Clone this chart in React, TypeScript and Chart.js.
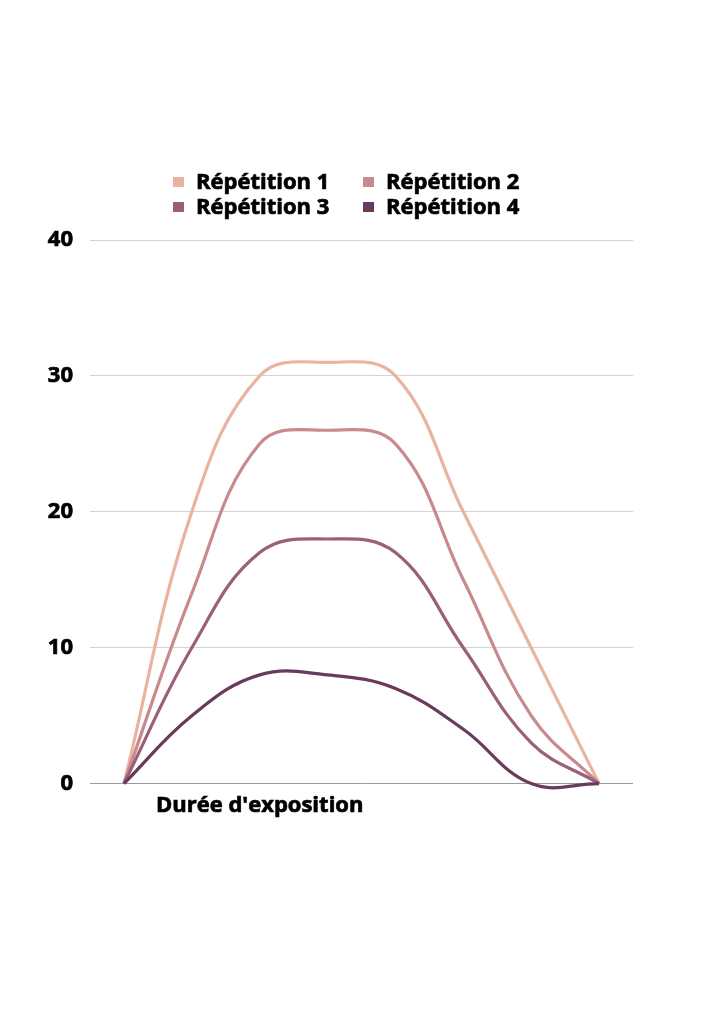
import React, { useEffect, useRef } from "react";
import { Chart, registerables } from "chart.js";

Chart.register(...registerables);

const categories = ["", "", "Durée d'exposition", "", "", "", "", ""];
const seriesNames = ["Répétition 1", "Répétition 2", "Répétition 3", "Répétition 4"];
const rep1 = [0, 20, 30, 31, 30, 20, 10, 0];
const rep2 = [0, 14, 25, 26, 25, 15, 5, 0];
const rep3 = [0, 10, 17, 18, 17, 10, 3, 0];
const rep4 = [0, 5, 8, 8, 7, 4, 0, 0];
const colors = ["#e9b3a0", "#c98a8e", "#9b5f78", "#6a3a5c"];
const yTicks = [0, 10, 20, 30, 40];

const FONT = "'Open Sans', sans-serif";
const FONT_SIZE = 22;
const FONT_WEIGHT = "bold";
const STROKE = 0.7;

const legendPlugin = {
  id: "gridLegend",
  afterDraw(chart: any) {
    const ctx = chart.ctx;
    const boxX = [165, 355];
    const rowY = [174, 199];
    ctx.save();
    ctx.font = `${FONT_WEIGHT} ${FONT_SIZE}px ${FONT}`;
    ctx.textBaseline = "middle";
    ctx.textAlign = "left";
    ctx.lineWidth = STROKE;
    ctx.strokeStyle = "#000";
    chart.data.datasets.forEach((ds: any, i: number) => {
      const col = i % 2;
      const row = Math.floor(i / 2);
      ctx.fillStyle = ds.borderColor;
      ctx.fillRect(boxX[col], rowY[row] - 5, 11, 10);
      ctx.fillStyle = "#000";
      ctx.fillText(ds.label, boxX[col] + 23, rowY[row] + 1);
      ctx.strokeText(ds.label, boxX[col] + 23, rowY[row] + 1);
    });
    ctx.restore();
  },
};

export default function App() {
  const ref = useRef<HTMLCanvasElement>(null);
  useEffect(() => {
    if (!ref.current) return;
    const series = [rep1, rep2, rep3, rep4];
    const chart = new Chart(ref.current, {
      type: "line",
      data: {
        labels: categories,
        datasets: series.map((d, i) => ({
          label: seriesNames[i],
          data: d,
          borderColor: colors[i],
          backgroundColor: colors[i],
          borderWidth: 3.2,
          pointRadius: 0,
          tension: 0.4,
          fill: false,
          clip: 8,
          order: 4 - i,
        })),
      },
      options: {
        animation: false,
        responsive: true,
        maintainAspectRatio: false,
        layout: { padding: { top: 232, left: 0, right: 83, bottom: 180 } },
        elements: { line: { capBezierPoints: false } },
        plugins: {
          legend: { display: false },
          tooltip: { enabled: false },
        },
        scales: {
          x: {
            offset: true,
            grid: { display: false, drawTicks: false },
            border: { display: false },
            ticks: {
              autoSkip: false,
              maxRotation: 0,
              minRotation: 0,
              padding: 9,
              color: "#000",
              textStrokeColor: "#000",
              textStrokeWidth: STROKE,
              font: { family: FONT, size: FONT_SIZE, weight: FONT_WEIGHT },
            },
          },
          y: {
            min: 0,
            max: 40,
            afterBuildTicks: (s: any) => {
              s.ticks = yTicks.map((v) => ({ value: v }));
            },
            afterFit: (s: any) => {
              s.width = 82;
            },
            grid: {
              drawTicks: false,
              color: (c: any) => (c.tick && c.tick.value === 0 ? "#9a9a9a" : "#d4d4d4"),
              lineWidth: 1,
            },
            border: { display: false },
            ticks: {
              padding: 17,
              color: "#000",
              textStrokeColor: "#000",
              textStrokeWidth: STROKE,
              font: { family: FONT, size: FONT_SIZE, weight: FONT_WEIGHT },
            },
          },
        },
      },
      plugins: [legendPlugin],
    });
    return () => chart.destroy();
  }, []);
  return (
    <div style={{ position: "relative", width: 708, height: 1000 }}>
      <canvas ref={ref} />
    </div>
  );
}
